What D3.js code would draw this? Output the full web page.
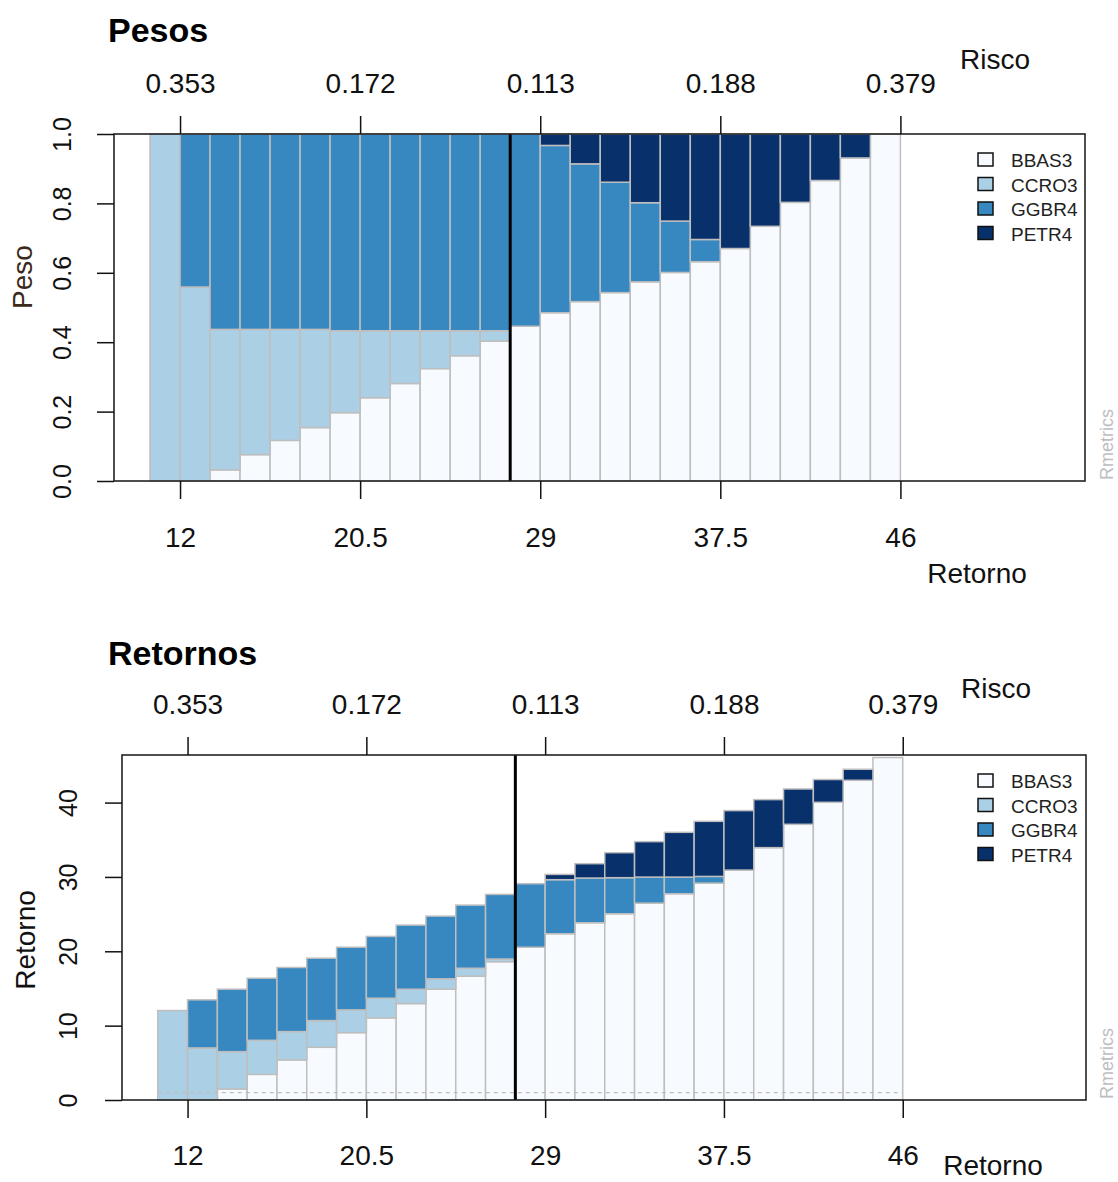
<!DOCTYPE html>
<html><head><meta charset="utf-8">
<script src="https://cdn.jsdelivr.net/npm/d3@7"></script>
<style>body{margin:0;background:#fff}svg{display:block}text{font-family:"Liberation Sans",Arial,sans-serif}</style>
</head><body>
<svg id="c" width="1118" height="1182"></svg>
<script>
// ---------- data ----------
const assets = ["BBAS3", "CCRO3", "GGBR4", "PETR4"];
const colors = ["#F7FBFF", "#ABD0E6", "#3787C0", "#08306B"];

// weights per frontier portfolio (25 portfolios)
const wBBAS3 = [0, 0, 0.032, 0.076, 0.117, 0.154, 0.197, 0.240, 0.281, 0.324, 0.361, 0.403, 0.446, 0.485, 0.517, 0.543, 0.574, 0.601, 0.632, 0.670, 0.734, 0.803, 0.866, 0.931, 1.0];
const wCCRO3 = [1.0, 0.559, 0.405, 0.361, 0.320, 0.283, 0.236, 0.193, 0.152, 0.109, 0.072, 0.030, 0, 0, 0, 0, 0, 0, 0, 0, 0, 0, 0, 0, 0];
const wGGBR4 = [0, 0.441, 0.563, 0.563, 0.563, 0.563, 0.567, 0.567, 0.567, 0.567, 0.567, 0.567, 0.554, 0.482, 0.397, 0.318, 0.228, 0.148, 0.064, 0, 0, 0, 0, 0, 0];
const wPETR4 = [0, 0, 0, 0, 0, 0, 0, 0, 0, 0, 0, 0, 0, 0.033, 0.086, 0.139, 0.198, 0.251, 0.304, 0.330, 0.266, 0.197, 0.134, 0.069, 0];

// weighted return contributions
const rBBAS3 = [0, 0, 1.48, 3.45, 5.39, 7.09, 9.06, 11.04, 12.97, 14.9, 16.65, 18.6, 20.55, 22.36, 23.84, 25.05, 26.48, 27.74, 29.17, 30.92, 33.94, 37.08, 40.04, 43.0, 46.06];
const rCCRO3 = [12.03, 7.0, 5.02, 4.58, 3.81, 3.59, 3.06, 2.65, 1.93, 1.4, 1.07, 0.36, 0, 0, 0, 0, 0, 0, 0, 0, 0, 0, 0, 0, 0];
const rGGBR4 = [0, 6.47, 8.4, 8.35, 8.62, 8.39, 8.43, 8.31, 8.62, 8.43, 8.49, 8.69, 8.54, 7.27, 6.01, 4.85, 3.5, 2.24, 0.9, 0, 0, 0, 0, 0, 0];
const rPETR4 = [0, 0, 0, 0, 0, 0, 0, 0, 0, 0, 0, 0, 0, 0.71, 1.93, 3.36, 4.77, 6.02, 7.41, 8.0, 6.46, 4.75, 3.06, 1.48, 0];

const riskLabels = ["0.353", "0.172", "0.113", "0.188", "0.379"];
const returnLabels = ["12", "20.5", "29", "37.5", "46"];
const tickPositions = [1, 7, 13, 19, 25];
const weightTicks = [0, 0.2, 0.4, 0.6, 0.8, 1.0];
const returnTicks = [0, 10, 20, 30, 40];
const minVarPosition = 12;
const dashedLevel = 1;

// ---------- drawing ----------
const svg = d3.select("#c");

function panel(cfg) {
  const g = svg.append("g");
  const n = cfg.series[0].length;
  const table = d3.range(n).map(i => {
    const o = { i };
    assets.forEach((a, k) => o[a] = cfg.series[k][i]);
    return o;
  });
  const stacked = d3.stack().keys(assets)(table);

  const x = d3.scaleLinear().domain([-1.2, 31.15]).range([cfg.left, cfg.right]);
  const y = d3.scaleLinear().domain(cfg.yDomain).range([cfg.bottom, cfg.top]);

  // bars
  stacked.forEach((layer, k) => {
    g.append("g").selectAll("rect").data(layer).join("rect")
      .attr("x", d => x(d.data.i))
      .attr("width", d => x(d.data.i + 1) - x(d.data.i))
      .attr("y", d => y(d[1]))
      .attr("height", d => Math.max(0, y(d[0]) - y(d[1])))
      .attr("fill", colors[k])
      .attr("stroke", "#BEBEBE")
      .attr("stroke-width", 1.5);
  });

  if (cfg.dashed !== undefined) {
    g.append("line")
      .attr("x1", x(0)).attr("x2", x(n))
      .attr("y1", y(cfg.dashed)).attr("y2", y(cfg.dashed))
      .attr("stroke", "#BEBEBE").attr("stroke-width", 1.2)
      .attr("stroke-dasharray", "4,4");
  }

  // min variance line
  g.append("line")
    .attr("x1", x(minVarPosition)).attr("x2", x(minVarPosition))
    .attr("y1", cfg.top).attr("y2", cfg.bottom)
    .attr("stroke", "#000").attr("stroke-width", 3);

  // box
  g.append("rect")
    .attr("x", cfg.left).attr("y", cfg.top)
    .attr("width", cfg.right - cfg.left).attr("height", cfg.bottom - cfg.top)
    .attr("fill", "none").attr("stroke", "#222").attr("stroke-width", 1.6);

  const styleAxis = (sel, fs) => {
    sel.select(".domain").remove();
    sel.selectAll(".tick line").attr("stroke", "#111").attr("stroke-width", 1.5);
    sel.selectAll(".tick text").attr("fill", "#111").style("font-size", fs + "px")
      .style("font-family", '"Liberation Sans", Arial, sans-serif');
  };

  // top axis (risk)
  g.append("g").attr("transform", `translate(0,${cfg.top})`)
    .call(d3.axisTop(x).tickValues(tickPositions).tickFormat((d, i) => riskLabels[i])
      .tickSize(18).tickPadding(cfg.topPad))
    .call(s => styleAxis(s, 28));

  // bottom axis (return)
  g.append("g").attr("transform", `translate(0,${cfg.bottom})`)
    .call(d3.axisBottom(x).tickValues(tickPositions).tickFormat((d, i) => returnLabels[i])
      .tickSize(18).tickPadding(cfg.botPad))
    .call(s => styleAxis(s, 28));

  // left axis
  const ya = g.append("g").attr("transform", `translate(${cfg.left},0)`)
    .call(d3.axisLeft(y).tickValues(cfg.yTicks).tickFormat(cfg.yFmt).tickSize(17));
  styleAxis(ya, 25);
  ya.selectAll(".tick text")
    .attr("x", 0).attr("y", 0).attr("dy", null)
    .attr("text-anchor", "middle")
    .attr("transform", `translate(${-cfg.yLabOff},0) rotate(-90)`);

  // titles
  g.append("text").attr("x", 108).attr("y", cfg.titleY)
    .style("font-size", "34px").style("font-weight", "bold").attr("fill", "#000")
    .text(cfg.title);
  g.append("text").attr("x", cfg.riscoX).attr("y", cfg.riscoY).attr("text-anchor", "middle")
    .style("font-size", "28px").attr("fill", "#111").text("Risco");
  g.append("text").attr("x", cfg.retX).attr("y", cfg.retY).attr("text-anchor", "middle")
    .style("font-size", "28px").attr("fill", "#111").text("Retorno");
  g.append("text")
    .attr("transform", `translate(${cfg.ylabX},${cfg.ylabY}) rotate(-90)`)
    .attr("text-anchor", "middle").style("font-size", "28px").attr("fill", cfg.ylabColor)
    .text(cfg.ylab);

  // legend
  const lg = g.append("g");
  assets.forEach((a, k) => {
    const cy = cfg.legendY + k * 24.5;
    lg.append("rect").attr("x", 978).attr("y", cy - 7).attr("width", 15).attr("height", 13)
      .attr("fill", colors[k]).attr("stroke", "#111").attr("stroke-width", 1.5);
    lg.append("text").attr("x", 1011).attr("y", cy + 7)
      .style("font-size", "19px").attr("fill", "#222").text(a);
  });

  // Rmetrics
  g.append("text")
    .attr("transform", `translate(1113,${cfg.bottom - 1}) rotate(-90)`)
    .attr("text-anchor", "start").style("font-size", "18px").attr("fill", "#BEBEBE")
    .text("Rmetrics");
}

panel({
  title: "Pesos", titleY: 42,
  left: 114, right: 1085, top: 134, bottom: 481,
  yDomain: [0, 1], yTicks: weightTicks, yFmt: d3.format(".1f"), yLabOff: 43,
  series: [wBBAS3, wCCRO3, wGGBR4, wPETR4],
  topPad: 23, botPad: 28,
  riscoX: 995, riscoY: 69, retX: 977, retY: 583,
  ylab: "Peso", ylabX: 32, ylabY: 277, ylabColor: "#3b2a1c",
  legendY: 160
});

panel({
  title: "Retornos", titleY: 665,
  left: 122, right: 1086, top: 755, bottom: 1100,
  yDomain: [0, 46.4], yTicks: returnTicks, yFmt: d3.format("d"), yLabOff: 45,
  series: [rBBAS3, rCCRO3, rGGBR4, rPETR4],
  dashed: dashedLevel,
  topPad: 23, botPad: 27,
  riscoX: 996, riscoY: 698, retX: 993, retY: 1175,
  ylab: "Retorno", ylabX: 35, ylabY: 940, ylabColor: "#111",
  legendY: 781
});
</script>
</body></html>
